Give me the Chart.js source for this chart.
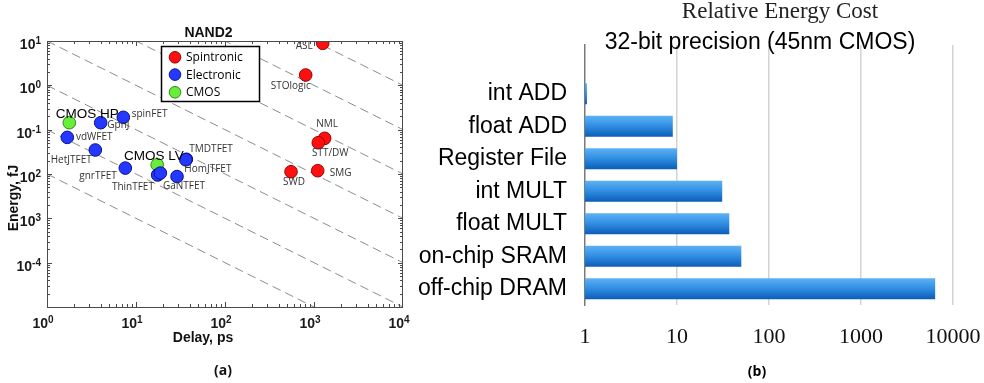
<!DOCTYPE html>
<html>
<head>
<meta charset="utf-8">
<title>NAND2 benchmark and relative energy cost</title>
<script src="https://cdn.jsdelivr.net/npm/chart.js@4.4.1/dist/chart.umd.min.js"></script>
<style>
  html, body { margin: 0; padding: 0; background: #fff; }
  #wrap { position: relative; width: 984px; height: 383px; overflow: hidden; }
  canvas { position: absolute; top: 0; }
  #cA { left: 0; }
  #cB { left: 412px; }
</style>
</head>
<body>
<div id="wrap">
  <canvas id="cA" width="412" height="383"></canvas>
  <canvas id="cB" width="572" height="383"></canvas>
</div>
<script>
// ---------- (a) NAND2 energy vs delay ----------
const spinNames   = ['ASL', 'STOlogic', 'NML', 'STT/DW', 'SWD', 'SMG'];
const spinDelay   = [1253, 807, 1318, 1117, 552, 1101];          // ps
const spinEnergy  = [8.87, 1.71, 0.0638, 0.0508, 0.01126, 0.01186]; // fJ

const elecNames   = ['GpnJ', 'spinFET', 'vdWFET', 'HetJTFET', 'gnrTFET', 'ThinTFET', '', 'GaNTFET', 'TMDTFET', 'HomJTFET'];
const elecDelay   = [4.01, 7.2, 1.69, 3.49, 7.58, 17.5, 18.8, 28.9, 36.8, 36.3];
const elecEnergy  = [0.1436, 0.19, 0.067, 0.0348, 0.0136, 0.0095, 0.0105, 0.00877, 0.0215, 0.0209];

const cmosNames   = ['CMOS HP', 'CMOS LV'];
const cmosDelay   = [1.78, 17.3];
const cmosEnergy  = [0.1436, 0.0162];

// constant energy-delay product guide lines (fJ*ps)
const edProducts  = [1e-2, 1e-1, 1, 10, 1e2, 1e3, 1e4, 1e5];

const delayTicks  = [1, 10, 100, 1000, 10000];
const delayTickLabels  = [['10','0'], ['10','1'], ['10','2'], ['10','3'], ['10','4']];
const energyTicks = [10, 1, 0.1, 0.01, 0.001, 0.0001];
const energyTickLabels = [['10','1'], ['10','0'], ['10','-1'], ['10','2'], ['10','3'], ['10','-4']];

// ---------- (b) relative energy cost ----------
const operations  = ['int ADD', 'float ADD', 'Register File', 'int MULT', 'float MULT', 'on-chip SRAM', 'off-chip DRAM'];
const relCost     = [1.05, 9, 10, 31, 37, 50, 6400];
const costTicks   = [1, 10, 100, 1000, 10000];
const costTickLabels = ['1', '10', '100', '1000', '10000'];

// label placement for the scatter points: [align, dx, dy, big]
const labelPlace = {
  'ASL': ['right', -10, 3], 'STOlogic': ['center', -15, 11], 'NML': ['center', 2.5, -14],
  'STT/DW': ['center', 12, 10.6], 'SWD': ['center', 3, 10], 'SMG': ['left', 12, 2],
  'TMDTFET': ['left', 3, -10], 'HomJTFET': ['left', -1.5, 9], 'GaNTFET': ['center', 7, 10],
  'ThinTFET': ['right', -3.7, 11.7], 'gnrTFET': ['right', -8.6, 8], 'HetJTFET': ['right', -3.6, 10],
  'vdWFET': ['left', 8.7, 0], 'GpnJ': ['left', 6.6, 2.3], 'spinFET': ['left', 8.4, -3.3],
  'CMOS HP': ['left', -13.6, -8.7, true], 'CMOS LV': ['left', -33.3, -8.7, true]
};

const SANS = '"Liberation Sans", Arial, Helvetica, sans-serif';
const OPEN = '"Open Sans", "Liberation Sans", sans-serif';
const SERIF = '"Liberation Serif", "Times New Roman", serif';

function pts(xs, ys) { return xs.map((x, i) => ({ x: x, y: ys[i] })); }

const guideSets = edProducts.map(p => ({
  type: 'line',
  data: [{ x: 1, y: p }, { x: 1e4, y: p / 1e4 }],
  borderColor: '#8c8c8c', borderWidth: 1, borderDash: [9, 5],
  pointRadius: 0, fill: false, order: 10
}));

const groups = [
  { label: 'Spintronic', names: spinNames, data: pts(spinDelay, spinEnergy), fill: '#ff1010', edge: '#9a0000', order: 0 },
  { label: 'Electronic', names: elecNames, data: pts(elecDelay, elecEnergy), fill: '#2438ff', edge: '#0a1290', order: 1 },
  { label: 'CMOS',       names: cmosNames, data: pts(cmosDelay, cmosEnergy), fill: '#66ee3a', edge: '#2f8a14', order: 2 }
];

function drawPow(ctx, base, exp, x, y, align, dyExp) {
  ctx.font = 'bold 14px ' + SANS;
  const wb = ctx.measureText(base).width;
  ctx.font = 'bold 10px ' + SANS;
  const we = ctx.measureText(exp).width;
  let sx = x;
  if (align === 'right') sx = x - wb - we;
  else if (align === 'center') sx = x - (wb + we) / 2;
  ctx.textAlign = 'left';
  ctx.textBaseline = 'alphabetic';
  ctx.font = 'bold 14px ' + SANS;
  ctx.fillText(base, sx, y);
  ctx.font = 'bold 10px ' + SANS;
  ctx.fillText(exp, sx + wb, y - dyExp);
}

const frameA = {
  id: 'frameA',
  afterDatasetsDraw(chart) {
    const ctx = chart.ctx, a = chart.chartArea;
    const xs = chart.scales.x, ys = chart.scales.y;
    ctx.save();
    // point labels
    groups.forEach((g, gi) => {
      const meta = chart.getDatasetMeta(gi);
      g.names.forEach((n, i) => {
        const place = labelPlace[n];
        if (!n || !place) return;
        const el = meta.data[i];
        ctx.font = place[3] ? '13.5px ' + SANS : '10px ' + OPEN;
        ctx.fillStyle = place[3] ? '#000' : '#333';
        ctx.textAlign = place[0];
        ctx.textBaseline = 'middle';
        ctx.fillText(n, el.x + place[1], el.y + place[2]);
      });
    });
    // box
    ctx.strokeStyle = '#4a4a4a';
    ctx.lineWidth = 1;
    ctx.strokeRect(a.left + 0.5, a.top + 0.5, a.right - a.left - 1, a.bottom - a.top);
    // ticks, inward on all four sides
    ctx.beginPath();
    for (let d = 0; d < 4; d++) {
      for (let m = 1; m <= 9; m++) {
        const v = Math.pow(10, d) * m;
        const px = Math.round(xs.getPixelForValue(v)) + 0.5;
        const len = m === 1 ? 5 : 3;
        ctx.moveTo(px, a.bottom); ctx.lineTo(px, a.bottom - len);
        ctx.moveTo(px, a.top); ctx.lineTo(px, a.top + len);
      }
    }
    for (let d = -5; d < 1; d++) {
      for (let m = 1; m <= 9; m++) {
        const v = Math.pow(10, d) * m;
        const py = Math.round(ys.getPixelForValue(v)) + 0.5;
        const len = m === 1 ? 5 : 3;
        ctx.moveTo(a.left, py); ctx.lineTo(a.left + len, py);
        ctx.moveTo(a.right, py); ctx.lineTo(a.right - len, py);
      }
    }
    ctx.stroke();
    // tick labels
    ctx.fillStyle = '#1a1a1a';
    delayTicks.forEach((v, i) => {
      const px = xs.getPixelForValue(v);
      drawPow(ctx, delayTickLabels[i][0], delayTickLabels[i][1], px - 4, a.bottom + 20.7, 'center', 4.5);
    });
    energyTicks.forEach((v, i) => {
      const py = ys.getPixelForValue(v);
      drawPow(ctx, energyTickLabels[i][0], energyTickLabels[i][1], a.left - 6, py + 8, 'right', 5);
    });
    // axis titles
    ctx.fillStyle = '#111';
    ctx.font = 'bold 14px ' + SANS;
    ctx.textAlign = 'center';
    ctx.textBaseline = 'middle';
    ctx.fillText('Delay, ps', 203, 338);
    ctx.save();
    ctx.translate(14, 198);
    ctx.rotate(-Math.PI / 2);
    ctx.fillText('Energy, fJ', 0, 0);
    ctx.restore();
    ctx.font = 'bold 14px ' + SANS;
    ctx.fillText('NAND2', 208.5, 33);
    ctx.font = 'bold 14px ' + OPEN;
    ctx.fillText('(a)', 223, 371);
    // legend
    const lx = 161.5, ly = 46.5, lw = 98, lh = 55;
    ctx.fillStyle = '#fff';
    ctx.fillRect(lx, ly, lw, lh);
    ctx.strokeStyle = '#000';
    ctx.lineWidth = 1.5;
    ctx.strokeRect(lx, ly, lw, lh);
    const rows = [57.3, 74.6, 92.3];
    groups.forEach((g, i) => {
      ctx.beginPath();
      ctx.arc(175, rows[i], 5.8, 0, Math.PI * 2);
      ctx.fillStyle = g.fill; ctx.fill();
      ctx.lineWidth = 1; ctx.strokeStyle = g.edge; ctx.stroke();
      ctx.fillStyle = '#000';
      ctx.font = '12px ' + OPEN;
      ctx.textAlign = 'left';
      ctx.textBaseline = 'middle';
      ctx.fillText(g.label, 186, rows[i] + 0.5);
    });
    ctx.restore();
  }
};

function buildA() {
  const sets = groups.map(g => ({
    type: 'scatter', label: g.label, data: g.data,
    backgroundColor: g.fill, borderColor: g.edge, borderWidth: 1,
    pointRadius: 6.3, pointHoverRadius: 6.3, order: g.order
  })).concat(guideSets);

  new Chart(document.getElementById('cA'), {
    type: 'scatter',
    data: { datasets: sets },
    options: {
      responsive: false, animation: false, devicePixelRatio: 1,
      layout: { padding: { left: 0, right: 9, top: 41, bottom: 0 } },
      scales: {
        x: {
          type: 'logarithmic', min: 1, max: 1e4,
          ticks: { display: false }, grid: { display: false }, border: { display: false },
          afterFit(s) { s.height = 76; }
        },
        y: {
          type: 'logarithmic', min: 1e-5, max: 10,
          ticks: { display: false }, grid: { display: false }, border: { display: false },
          afterFit(s) { s.width = 47; }
        }
      },
      plugins: { legend: { display: false }, tooltip: { enabled: false } }
    },
    plugins: [frameA]
  });
}

// ---------- (b) ----------
const BAR_PCT = 0.65;
const titleB = {
  id: 'titleB',
  afterDraw(chart) {
    const ctx = chart.ctx;
    ctx.save();
    ctx.textAlign = 'center';
    ctx.textBaseline = 'alphabetic';
    ctx.fillStyle = '#222';
    ctx.font = '23px ' + SERIF;
    ctx.fillText('Relative Energy Cost', 368, 18.3);
    ctx.fillStyle = '#000';
    ctx.font = '23px ' + SANS;
    ctx.fillText('32-bit precision (45nm CMOS)', 348, 49.3);
    ctx.font = 'bold 14px ' + OPEN;
    ctx.textBaseline = 'middle';
    ctx.fillText('(b)', 345, 372);
    ctx.restore();
  }
};

function buildB() {
  // an empty row is kept above the first bar
  const rows = [''].concat(operations);
  const vals = [null].concat(relCost);
  new Chart(document.getElementById('cB'), {
    type: 'bar',
    data: {
      labels: rows,
      datasets: [{
        data: vals,
        barPercentage: BAR_PCT, categoryPercentage: 1,
        backgroundColor(c) {
          const chart = c.chart, ys = chart.scales.y;
          if (!chart.chartArea || !ys) return '#2e8fe3';
          const yc = ys.getPixelForValue(c.dataIndex);
          const half = ys.height / rows.length * BAR_PCT / 2;
          const g = chart.ctx.createLinearGradient(0, yc - half, 0, yc + half);
          g.addColorStop(0, '#5db2f4');
          g.addColorStop(0.5, '#2f8de2');
          g.addColorStop(1, '#0a5db6');
          return g;
        },
        borderWidth: 0
      }]
    },
    options: {
      indexAxis: 'y',
      responsive: false, animation: false, devicePixelRatio: 1,
      layout: { padding: { left: 0, right: 31, top: 45, bottom: 0 } },
      scales: {
        x: {
          type: 'logarithmic', min: 1, max: 10000,
          afterBuildTicks(s) { s.ticks = costTicks.map(v => ({ value: v })); },
          ticks: {
            callback(v) { const i = costTicks.indexOf(v); return i >= 0 ? costTickLabels[i] : ''; },
            font: { family: SERIF, size: 22 }, color: '#111', padding: 19,
            maxRotation: 0, autoSkip: false
          },
          grid: {
            drawTicks: false, lineWidth: 1.5,
            color(c) { return c.tick && c.tick.value === 1 ? 'rgba(0,0,0,0)' : '#d3d3d3'; }
          },
          border: { display: false },
          afterFit(s) { s.height = 78; s.paddingLeft = 0; s.paddingRight = 0; }
        },
        y: {
          ticks: { font: { family: SANS, size: 23 }, color: '#000', padding: 18, autoSkip: false },
          grid: { display: false, drawTicks: false },
          border: { display: true, color: '#7a7a7a', width: 1.5 },
          afterFit(s) { s.width = 173; s.paddingTop = 0; s.paddingBottom = 0; }
        }
      },
      plugins: { legend: { display: false }, tooltip: { enabled: false } }
    },
    plugins: [titleB]
  });
}

const fontLoads = ['14px "Liberation Sans"', 'bold 14px "Liberation Sans"', '12px "Open Sans"',
  'bold 14px "Open Sans"', '22px "Liberation Serif"'].map(f => document.fonts.load(f).catch(() => null));
Promise.all(fontLoads).then(() => { buildA(); buildB(); }, () => { buildA(); buildB(); });
</script>
</body>
</html>
